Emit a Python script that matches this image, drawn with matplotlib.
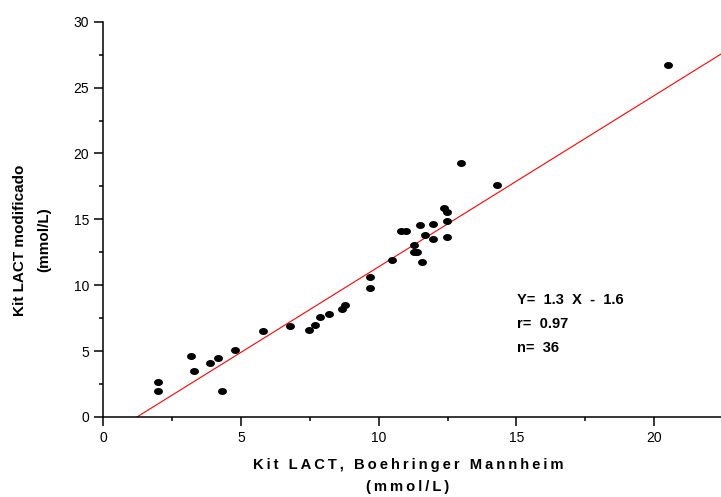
import matplotlib
matplotlib.use("Agg")
import matplotlib.pyplot as plt
import numpy as np
from matplotlib.ticker import MultipleLocator

# Datos (mmol/L)
kit_bm = [2.0, 2.0, 3.18, 3.3, 3.89, 4.18, 4.31, 4.79, 5.79,
          6.79, 7.48, 7.68, 7.88, 8.19, 8.67, 8.79, 9.69, 9.69,
          10.5, 10.8, 10.99, 11.28, 11.28, 11.4, 11.59, 11.49, 11.68,
          11.98, 11.98, 12.38, 12.49, 12.49, 12.49, 12.99, 14.28, 20.49]
kit_mod = [2.68, 2.0, 4.61, 3.5, 4.11, 4.49, 2.0, 5.1, 6.49,
           6.92, 6.62, 7.0, 7.6, 7.81, 8.21, 8.52, 9.81, 10.62,
           11.94, 14.14, 14.14, 13.03, 12.52, 12.52, 11.73, 14.55, 13.84,
           14.65, 13.54, 15.84, 15.54, 14.85, 13.64, 19.26, 17.57, 26.7]
pendiente = 1.3
intercepto = -1.6
texto = ["Y=  1.3  X  -  1.6", "r=  0.97", "n=  36"]

plt.rcParams['font.family'] = ['Liberation Sans', 'DejaVu Sans']


def espaciar(s):
    # separa las letras con un espacio fino, como en la grafica original
    return '\u2009'.join(s)


fig = plt.figure(figsize=(7.21, 4.97), dpi=100)
ax = fig.add_axes([0.1429, 0.161, 0.8571, 0.7953])

xmax = 22.42
xs = np.array([0, xmax])
ax.plot(xs, pendiente * xs + intercepto, color='red', lw=0.8, zorder=2)

# marcador eliptico (mas ancho que alto)
t = np.linspace(0, 2 * np.pi, 40)
elipse = np.column_stack([1.35 * np.cos(t), np.sin(t)])
ax.plot(kit_bm, kit_mod, ls='none', marker=elipse, color='black', ms=5.4, zorder=3)

ax.set_xlim(0, xmax)
ax.set_ylim(0, 30)
ax.spines['top'].set_visible(False)
ax.spines['right'].set_visible(False)
for s in ['left', 'bottom']:
    ax.spines[s].set_linewidth(1.1)
ax.spines['left'].set_bounds(0, 30)

ax.xaxis.set_major_locator(MultipleLocator(5))
ax.xaxis.set_minor_locator(MultipleLocator(2.5))
ax.yaxis.set_major_locator(MultipleLocator(5))
ax.yaxis.set_minor_locator(MultipleLocator(2.5))
ax.tick_params(which='major', length=6.5, width=1.1, labelsize=10, direction='out')
ax.tick_params(which='minor', length=3.2, width=1.1, direction='out')

ax.set_xlabel(espaciar('Kit LACT, Boehringer Mannheim') + '\n' + espaciar('(mmol/L)'),
              fontsize=10.6, fontweight='bold', linespacing=1.7)
ax.xaxis.set_label_coords(0.4935, -0.104)
ax.set_ylabel('Kit LACT modificado\n(mmol/L)', fontsize=11,
              fontweight='bold', linespacing=2.0)
ax.yaxis.set_label_coords(-0.083, 0.448)

for i, t in enumerate(texto):
    ax.text(15.02, 8.9 - i * 1.85, t, fontsize=10.5, fontweight='bold', va='center')

fig.savefig('out.png', dpi=100)
